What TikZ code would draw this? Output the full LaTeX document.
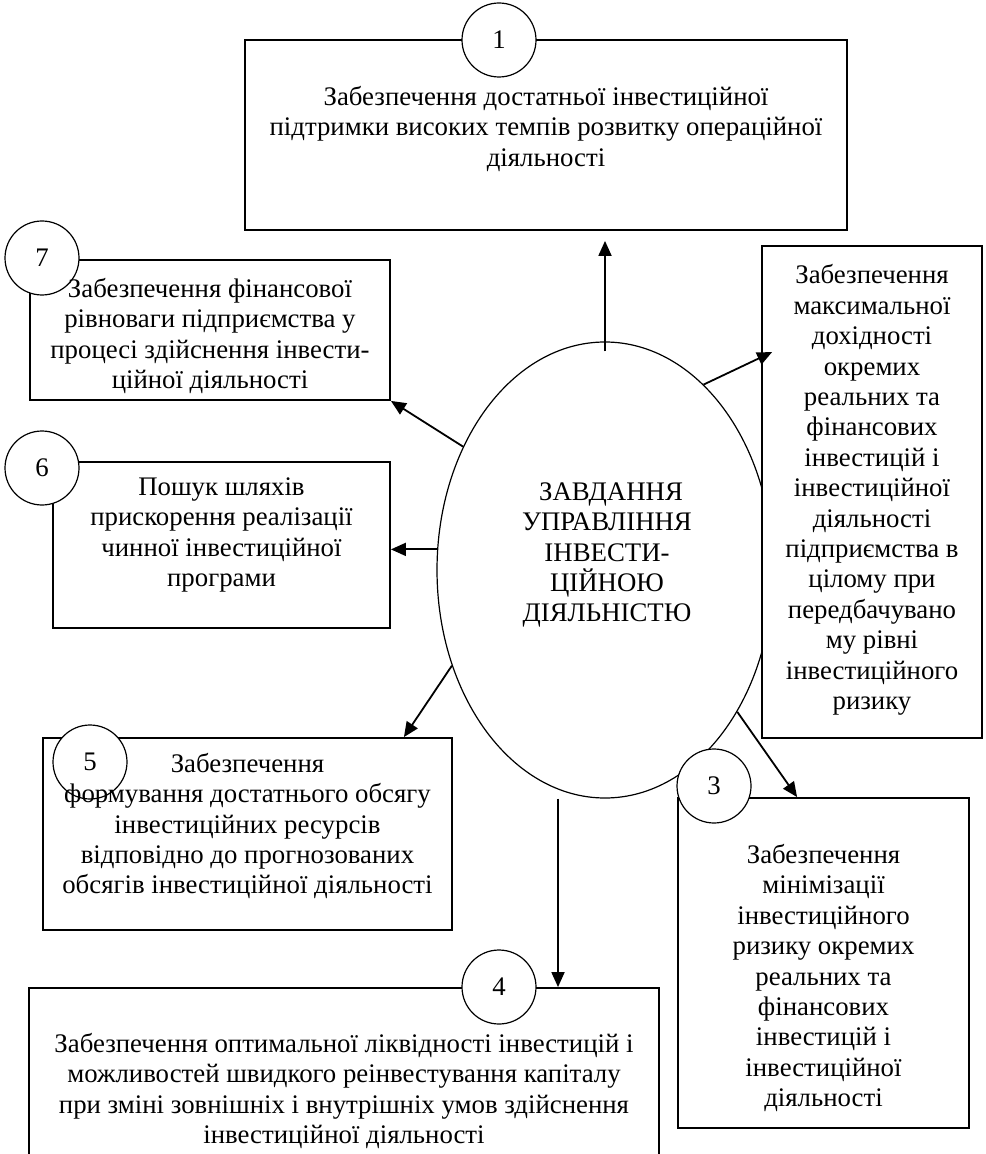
\documentclass[tikz,border=0pt]{standalone}
\usepackage{fontspec}
\setmainfont{Liberation Serif}
\usetikzlibrary{arrows.meta,shapes.geometric}

\begin{document}
\begin{tikzpicture}[x=0.5pt,y=-0.5pt,>={Triangle[length=7.5pt,width=6.5pt]},
  box/.style={draw,line width=.9pt,fill=white,inner sep=0pt},
  num/.style={draw,circle,line width=.6pt,fill=white,minimum size=37pt,inner sep=0pt,font=\fontsize{13.4}{15}\selectfont},
  txt/.style={align=center,font=\fontsize{13.4}{15.2}\selectfont},
  arr/.style={->,line width=.9pt}]
\useasboundingbox (0,0) rectangle (985,1154);
% centre
\node[draw,ellipse,line width=.6pt,minimum width=168pt,minimum height=228pt,inner sep=0pt] (task) at (605,570) {};
% boxes
\node[box,minimum width=301pt,minimum height=95pt] (box1) at (546,135) {};
\node[box,minimum width=110pt,minimum height=246pt] (box2) at (872,492) {};
\node[box,minimum width=145.5pt,minimum height=165pt] (box3) at (823.5,963) {};
\node[box,minimum width=315pt,minimum height=106pt] (box4) at (344,1094) {};
\node[box,minimum width=204.5pt,minimum height=96pt] (box5) at (247.5,834) {};
\node[box,minimum width=168.5pt,minimum height=83pt] (box6) at (221.5,545) {};
\node[box,minimum width=180pt,minimum height=70pt] (box7) at (210,330) {};
% numbers
\node[num] (n1) at (499,40) {1};
\node[num] (n3) at (714,786) {3};
\node[num] (n4) at (499,987) {4};
\node[num] (n5) at (90,762) {5};
\node[num] (n6) at (42,468) {6};
\node[num] (n7) at (42,258) {7};
% arrows
\draw[arr] ([yshift=-5pt]task.north) -- ([yshift=-5pt]task.north |- box1.south);
\draw[arr] (task.62) -- ([shift={(5.5pt,-53.5pt)}]box2.north west);
\draw[arr] (task.313) -- ([xshift=60pt]box3.north west);
\draw[arr] ([xshift=-23.5pt]task.south) -- ([xshift=-23.5pt]task.south |- box4.north);
\draw[arr] (task.212) -- ([xshift=-24.5pt]box5.north east);
\draw[arr] (task.173) -- (task.173 -| box6.east);
\draw[arr] (task.139) -- (box7.south east);
% texts
\node[txt] (ttask) at (607,555) {\hspace*{4pt}ЗАВДАННЯ\\УПРАВЛІННЯ\\ІНВЕСТИ-\\ЦІЙНОЮ\\ДІЯЛЬНІСТЮ};
\node[txt] (t1) at (546,129) {Забезпечення достатньої інвестиційної\\підтримки високих темпів розвитку операційної\\діяльності};
\node[txt] (t2) at (872,490) {Забезпечення\\максимальної\\дохідності\\окремих\\реальних та\\фінансових\\інвестицій і\\інвестиційної\\діяльності\\підприємства в\\цілому при\\передбачувано\\му рівні\\інвестиційного\\ризику};
\node[txt] (t3) at (823.5,978) {Забезпечення\\мінімізації\\інвестиційного\\ризику окремих\\реальних та\\фінансових\\інвестицій і\\інвестиційної\\діяльності};
\node[txt] (t4) at (344,1091) {Забезпечення оптимальної ліквідності інвестицій і\\можливостей швидкого реінвестування капіталу\\при зміні зовнішніх і внутрішніх умов здійснення\\інвестиційної діяльності};
\node[txt] (t5) at (247.5,826) {Забезпечення\\формування достатнього обсягу\\інвестиційних ресурсів\\відповідно до прогнозованих\\обсягів інвестиційної діяльності};
\node[txt] (t6) at (221.5,535) {Пошук шляхів\\прискорення реалізації\\чинної інвестиційної\\програми};
\node[txt] (t7) at (210,336) {Забезпечення фінансової\\рівноваги підприємства у\\процесі здійснення інвести-\\ційної діяльності};
\end{tikzpicture}
\end{document}
